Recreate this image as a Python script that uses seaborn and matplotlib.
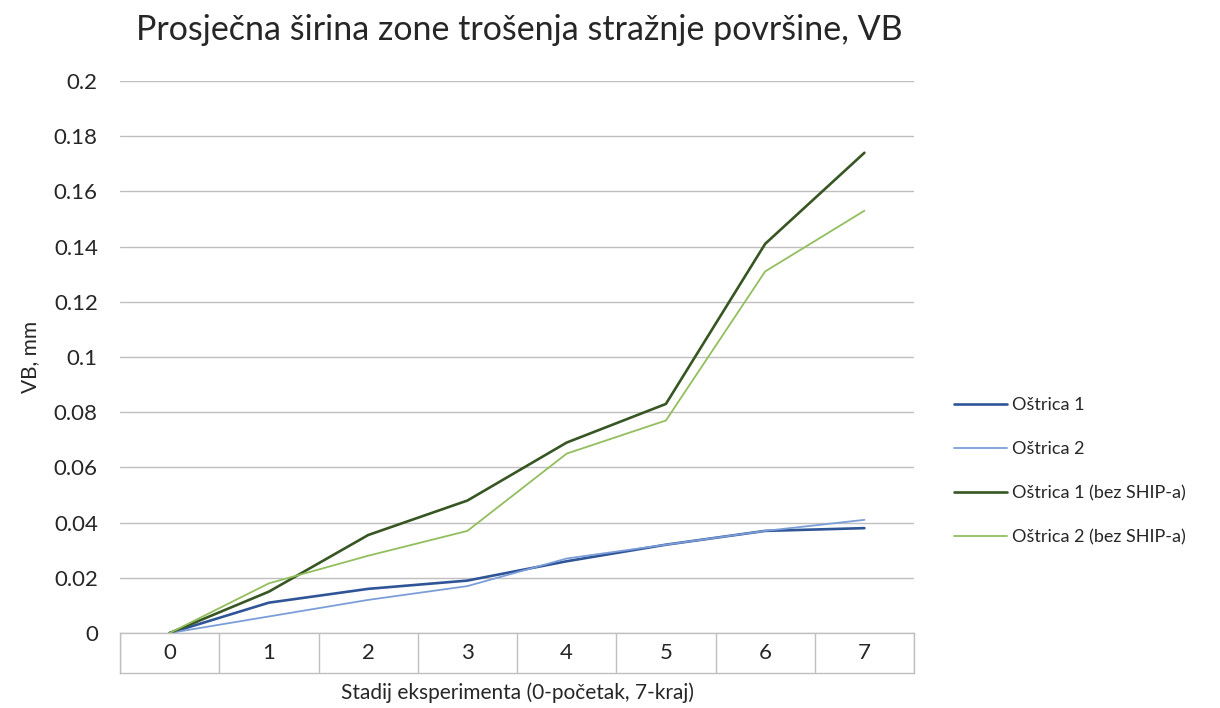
import pandas as pd
import numpy as np
import matplotlib.pyplot as plt
import seaborn as sns

# podaci procijenjeni sa slike
stadij = [0, 1, 2, 3, 4, 5, 6, 7]
ostrica_1 = [0, 0.011, 0.016, 0.019, 0.026, 0.032, 0.037, 0.038]
ostrica_2 = [0, 0.006, 0.012, 0.017, 0.027, 0.032, 0.037, 0.041]
ostrica_1_bez = [0, 0.015, 0.0355, 0.048, 0.069, 0.083, 0.141, 0.174]
ostrica_2_bez = [0, 0.018, 0.028, 0.037, 0.065, 0.077, 0.131, 0.153]
serije = ['Oštrica 1', 'Oštrica 2', 'Oštrica 1 (bez SHIP-a)', 'Oštrica 2 (bez SHIP-a)']
boje = ['#2F5597', '#7C9ED8', '#375623', '#92BE5E']
debljine = [1.9, 1.3, 1.9, 1.3]

sns.set_theme(style='white')
plt.rcParams['font.family'] = ['Lato', 'DejaVu Sans']

df = pd.DataFrame({
    'stadij': stadij * 4,
    'VB': ostrica_1 + ostrica_2 + ostrica_1_bez + ostrica_2_bez,
    'serija': np.repeat(serije, len(stadij)),
})

fig = plt.figure(figsize=(12.2, 7.08), dpi=100)
ax = fig.add_axes([0.0984, 0.1059, 0.6508, 0.7797])
sns.lineplot(data=df, x='stadij', y='VB', hue='serija', hue_order=serije,
             palette=boje, ax=ax, legend=False)
for line, lw in zip(ax.lines, debljine):
    line.set_linewidth(lw)

ax.set_xlim(-0.5, 7.5)
ax.set_ylim(0, 0.2)
ax.set_yticks(np.arange(0, 0.201, 0.02))
ax.set_yticklabels(['0', '0.02', '0.04', '0.06', '0.08', '0.1', '0.12',
                    '0.14', '0.16', '0.18', '0.2'], fontsize=16, color='#262626')
ax.tick_params(axis='y', length=0, pad=16)
ax.set_xticks([])
ax.set_xlabel('')
ax.set_ylabel('VB, mm', fontsize=15, color='#262626', labelpad=10)
ax.grid(axis='y', color='#BFBFBF', linewidth=1.0)
for s in ['top', 'right', 'left', 'bottom']:
    ax.spines[s].set_visible(False)

# tablica s kategorijama ispod osi
tab = fig.add_axes([0.0984, 0.0494, 0.6508, 0.0565])
tab.set_xlim(-0.5, 7.5)
tab.set_ylim(0, 1)
for x in np.arange(-0.5, 8, 1):
    tab.axvline(x, color='#BFBFBF', linewidth=1.0)
for s in tab.spines.values():
    s.set_color('#BFBFBF')
    s.set_linewidth(1.0)
tab.set_xticks([])
tab.set_yticks([])
for x in stadij:
    tab.text(x, 0.5, str(x), ha='center', va='center', fontsize=16, color='#262626')

fig.text(0.424, 0.022, 'Stadij eksperimenta (0-početak, 7-kraj)', ha='center',
         va='center', fontsize=15, color='#262626')
fig.text(0.426, 0.957, 'Prosječna širina zone trošenja stražnje površine, VB',
         ha='center', va='center', fontsize=24.5, color='#262626')

handles = [plt.Line2D([], [], color=c, linewidth=lw) for c, lw in zip(boje, debljine)]
fig.legend(handles, serije, loc='center left', bbox_to_anchor=(0.769, 0.334),
           frameon=False, fontsize=13, handlelength=2.9, handletextpad=0.3,
           labelspacing=1.55, labelcolor='#262626')

fig.savefig('out.png', dpi=100)
